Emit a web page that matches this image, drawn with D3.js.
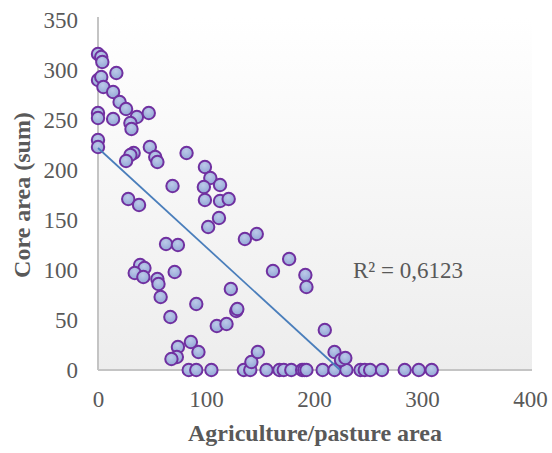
<!DOCTYPE html>
<html>
<head>
<meta charset="utf-8">
<script src="https://cdn.jsdelivr.net/npm/d3@7"></script>
<style>
  html, body { margin: 0; padding: 0; background: #ffffff; }
  svg { display: block; }
</style>
</head>
<body>
<svg id="chart" width="552" height="453"></svg>
<script>
// ---- Data ----
const agriculture = [
  0, 3, 4, 17, 0, 3, 5, 14, 20, 26,
  0, 0, 14, 36, 47, 30, 31, 0, 0, 33,
  30, 26, 48, 53, 55, 82, 69, 28, 38, 63,
  74, 99, 104, 98, 113, 99, 113, 121, 112, 102,
  136, 147, 39, 43, 34, 42, 55, 56, 58, 71,
  91, 67, 110, 119, 123, 128, 129, 86, 74, 93,
  73, 68, 84, 91, 105, 135, 141, 142, 148, 156,
  168, 172, 179, 189, 191, 193, 177, 162, 192, 193,
  210, 208, 219, 230, 219, 225, 229, 243, 247, 252,
  263, 284, 297, 309
];
const coreArea = [
  316, 313, 308, 297, 290, 293, 283, 278, 268, 261,
  257, 252, 251, 253, 257, 247, 241, 230, 223, 217,
  215, 209, 223, 213, 208, 217, 184, 171, 165, 126,
  125, 203, 192, 183, 185, 170, 169, 171, 152, 143,
  131, 136, 105, 102, 97, 93, 91, 86, 73, 98,
  66, 53, 44, 46, 81, 59, 61, 28, 23, 18,
  13, 11, 0, 0, 0, 0, 0, 8, 18, 0,
  0, 0, 0, 0, 0, 0, 111, 99, 95, 83,
  40, 0, 0, 0, 18, 10, 12, 0, 0, 0,
  0, 0, 0, 0
];
const xTicks = [0, 100, 200, 300, 400];
const yTicks = [0, 50, 100, 150, 200, 250, 300, 350];
const trendIntercept = 222;   // linear trend line
const trendSlope = -0.99;
const rSquaredLabel = "R² = 0,6123";
const xTitle = "Agriculture/pasture area";
const yTitle = "Core area (sum)";

// ---- Layout ----
const plot = { left: 98, right: 530, top: 20, bottom: 370 };
const svg = d3.select("#chart");

const x = d3.scaleLinear().domain([0, 400]).range([plot.left, plot.right]);
const y = d3.scaleLinear().domain([0, 350]).range([plot.bottom, plot.top]);

const defs = svg.append("defs");
const bg = defs.append("linearGradient").attr("id", "bgGrad")
  .attr("x1", 0).attr("y1", 0).attr("x2", 0).attr("y2", 1);
bg.append("stop").attr("offset", "0%").attr("stop-color", "#ffffff");
bg.append("stop").attr("offset", "100%").attr("stop-color", "#ededed");

const mk = defs.append("radialGradient").attr("id", "mkGrad")
  .attr("cx", "45%").attr("cy", "35%").attr("r", "65%");
mk.append("stop").attr("offset", "0%").attr("stop-color", "#bccae9");
mk.append("stop").attr("offset", "100%").attr("stop-color", "#93a7d6");

// plot background
svg.append("rect")
  .attr("x", plot.left).attr("y", plot.top - 3)
  .attr("width", plot.right - plot.left + 2)
  .attr("height", plot.bottom - plot.top + 3)
  .attr("fill", "url(#bgGrad)");

const font = "'Liberation Serif', 'Times New Roman', serif";
const textColor = "#595959";
const axisColor = "#c4c4c4";

// x axis
const gx = svg.append("g")
  .attr("transform", `translate(0,${plot.bottom})`)
  .call(d3.axisBottom(x).tickValues(xTicks).tickSize(0).tickFormat(d3.format("d")));
gx.select(".domain").attr("stroke", axisColor).attr("stroke-width", 2)
  .attr("d", `M${plot.left},0H${plot.right + 2}`);
gx.selectAll("text")
  .attr("y", 37).attr("dy", 0)
  .attr("fill", textColor)
  .style("font-family", font).style("font-size", "23px");

// y axis
const gy = svg.append("g")
  .attr("transform", `translate(${plot.left},0)`)
  .call(d3.axisLeft(y).tickValues(yTicks).tickSize(0).tickFormat(d3.format("d")));
gy.select(".domain").attr("stroke", axisColor).attr("stroke-width", 2)
  .attr("d", `M0,${plot.top - 3}V${plot.bottom}`);
gy.selectAll("text")
  .attr("x", -20).attr("dy", "0.33em")
  .attr("fill", textColor)
  .style("font-family", font).style("font-size", "23px");

// points
const pts = agriculture.map((v, i) => ({ x: v, y: coreArea[i] }));
svg.append("g")
  .selectAll("circle")
  .data(pts)
  .join("circle")
  .attr("cx", d => x(d.x))
  .attr("cy", d => y(d.y))
  .attr("r", 6.2)
  .attr("fill", "url(#mkGrad)")
  .attr("stroke", "#7030a0")
  .attr("stroke-width", 2);

// trend line (clipped at y = 0)
const xEnd = -trendIntercept / trendSlope;
const trend = [0, xEnd].map(v => ({ x: v, y: trendIntercept + trendSlope * v }));
svg.append("path")
  .datum(trend)
  .attr("fill", "none")
  .attr("stroke", "#4a7ebb")
  .attr("stroke-width", 1.75)
  .attr("d", d3.line().x(d => x(d.x)).y(d => y(d.y)));

// R² label
svg.append("text")
  .attr("x", 353).attr("y", 278)
  .attr("fill", textColor)
  .style("font-family", font).style("font-size", "23px")
  .text(rSquaredLabel);

// axis titles
svg.append("text")
  .attr("x", (plot.left + plot.right) / 2 + 1).attr("y", 441)
  .attr("text-anchor", "middle")
  .attr("fill", textColor)
  .style("font-family", font).style("font-size", "24px").style("font-weight", "bold")
  .text(xTitle);

svg.append("text")
  .attr("transform", "translate(30,195) rotate(-90)")
  .attr("text-anchor", "middle")
  .attr("fill", textColor)
  .style("font-family", font).style("font-size", "24px").style("font-weight", "bold")
  .text(yTitle);
</script>
</body>
</html>
